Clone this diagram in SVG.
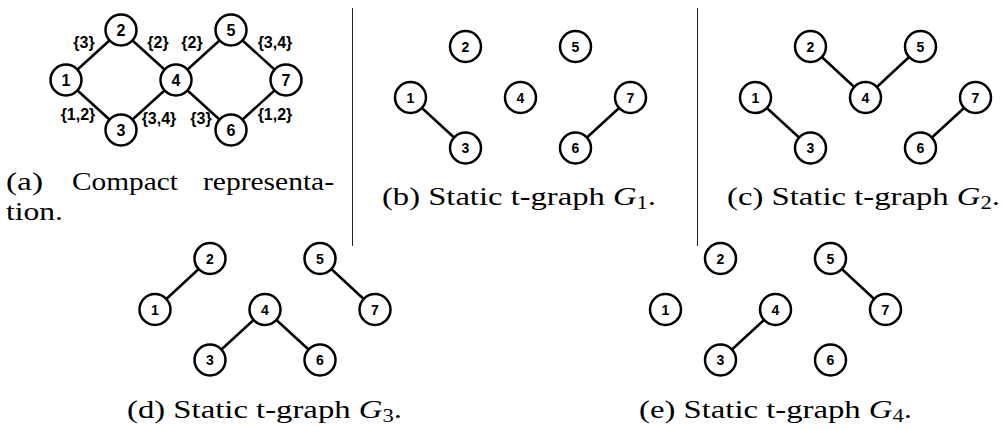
<svg xmlns="http://www.w3.org/2000/svg" width="1004" height="430" viewBox="0 0 1004 430">
<defs>
<style>
.n circle{fill:#fff;stroke:#000;stroke-width:2.5}
.e line{stroke:#000;stroke-width:2.5}
.div{stroke:#222;stroke-width:1}
</style>
</defs>
<rect width="1004" height="430" fill="#fff"/>
<line class="div" x1="352.5" y1="8" x2="352.5" y2="246" stroke="#222" stroke-width="1"/>
<line class="div" x1="697.5" y1="8" x2="697.5" y2="246" stroke="#222" stroke-width="1"/>

<!-- Panel a -->
<g id="a-edges" class="e" stroke="#000" stroke-width="2.5">
<line x1="66" y1="80" x2="121" y2="30"/>
<line x1="121" y1="30" x2="176" y2="80"/>
<line x1="66" y1="80" x2="121" y2="130"/>
<line x1="121" y1="130" x2="176" y2="80"/>
<line x1="176" y1="80" x2="231" y2="30"/>
<line x1="231" y1="30" x2="286" y2="80"/>
<line x1="176" y1="80" x2="231" y2="130"/>
<line x1="231" y1="130" x2="286" y2="80"/>
</g>
<g id="a-edge-labels" font-family="'Liberation Sans', Arial, sans-serif" font-weight="700" font-size="16" text-anchor="middle" fill="#000">
<text x="84" y="48">{3}</text>
<text x="158" y="48">{2}</text>
<text x="192" y="48">{2}</text>
<text x="275" y="48">{3,4}</text>
<text x="78" y="120">{1,2}</text>
<text x="159" y="124">{3,4}</text>
<text x="201" y="124">{3}</text>
<text x="275" y="120">{1,2}</text>
</g>
<g font-family="'Liberation Sans', Arial, sans-serif" font-weight="700" font-size="16" text-anchor="middle">
<g id="a-n1" class="n"><circle cx="66" cy="80" r="15.5" fill="#fff" stroke="#000" stroke-width="2.5"/><text x="66" y="85.7">1</text></g>
<g id="a-n2" class="n"><circle cx="121" cy="30" r="15.5" fill="#fff" stroke="#000" stroke-width="2.5"/><text x="121" y="35.7">2</text></g>
<g id="a-n3" class="n"><circle cx="121" cy="130" r="15.5" fill="#fff" stroke="#000" stroke-width="2.5"/><text x="121" y="135.7">3</text></g>
<g id="a-n4" class="n"><circle cx="176" cy="80" r="15.5" fill="#fff" stroke="#000" stroke-width="2.5"/><text x="176" y="85.7">4</text></g>
<g id="a-n5" class="n"><circle cx="231" cy="30" r="15.5" fill="#fff" stroke="#000" stroke-width="2.5"/><text x="231" y="35.7">5</text></g>
<g id="a-n6" class="n"><circle cx="231" cy="130" r="15.5" fill="#fff" stroke="#000" stroke-width="2.5"/><text x="231" y="135.7">6</text></g>
<g id="a-n7" class="n"><circle cx="286" cy="80" r="15.5" fill="#fff" stroke="#000" stroke-width="2.5"/><text x="286" y="85.7">7</text></g>
</g>
<g id="a-caption" font-family="'Liberation Serif', 'Times New Roman', serif" font-size="26" fill="#000">
<text x="6" y="190" textLength="37" lengthAdjust="spacingAndGlyphs">(a)</text>
<text x="72" y="190" textLength="106" lengthAdjust="spacingAndGlyphs">Compact</text>
<text x="203" y="190" textLength="131" lengthAdjust="spacingAndGlyphs">representa-</text>
<text x="6" y="220" textLength="57" lengthAdjust="spacingAndGlyphs">tion.</text>
</g>

<!-- Panel b -->
<g id="b-edges" class="e" stroke="#000" stroke-width="2.5">
<line x1="410.5" y1="97.5" x2="465.5" y2="148"/>
<line x1="575.5" y1="148" x2="630.5" y2="97.5"/>
</g>
<g font-family="'Liberation Sans', Arial, sans-serif" font-weight="700" font-size="14" text-anchor="middle">
<g id="b-n1" class="n"><circle cx="410.5" cy="97.5" r="15.5" fill="#fff" stroke="#000" stroke-width="2.5"/><text x="410.5" y="102.5">1</text></g>
<g id="b-n2" class="n"><circle cx="465.5" cy="46.5" r="15.5" fill="#fff" stroke="#000" stroke-width="2.5"/><text x="465.5" y="51.5">2</text></g>
<g id="b-n3" class="n"><circle cx="465.5" cy="148" r="15.5" fill="#fff" stroke="#000" stroke-width="2.5"/><text x="465.5" y="153">3</text></g>
<g id="b-n4" class="n"><circle cx="520.5" cy="97.5" r="15.5" fill="#fff" stroke="#000" stroke-width="2.5"/><text x="520.5" y="102.5">4</text></g>
<g id="b-n5" class="n"><circle cx="575.5" cy="46.5" r="15.5" fill="#fff" stroke="#000" stroke-width="2.5"/><text x="575.5" y="51.5">5</text></g>
<g id="b-n6" class="n"><circle cx="575.5" cy="148" r="15.5" fill="#fff" stroke="#000" stroke-width="2.5"/><text x="575.5" y="153">6</text></g>
<g id="b-n7" class="n"><circle cx="630.5" cy="97.5" r="15.5" fill="#fff" stroke="#000" stroke-width="2.5"/><text x="630.5" y="102.5">7</text></g>
</g>
<text id="b-caption" font-family="'Liberation Serif', 'Times New Roman', serif" font-size="26" x="382" y="205" textLength="274" lengthAdjust="spacingAndGlyphs">(b) Static t-graph <tspan font-style="italic">G</tspan><tspan font-size="18" dy="4">1</tspan><tspan dy="-4">.</tspan></text>

<!-- Panel c -->
<g id="c-edges" class="e" stroke="#000" stroke-width="2.5">
<line x1="755.5" y1="97.5" x2="810.5" y2="148"/>
<line x1="810.5" y1="46.5" x2="865.5" y2="97.5"/>
<line x1="865.5" y1="97.5" x2="920.5" y2="46.5"/>
<line x1="920.5" y1="148" x2="975.5" y2="97.5"/>
</g>
<g font-family="'Liberation Sans', Arial, sans-serif" font-weight="700" font-size="14" text-anchor="middle">
<g id="c-n1" class="n"><circle cx="755.5" cy="97.5" r="15.5" fill="#fff" stroke="#000" stroke-width="2.5"/><text x="755.5" y="102.5">1</text></g>
<g id="c-n2" class="n"><circle cx="810.5" cy="46.5" r="15.5" fill="#fff" stroke="#000" stroke-width="2.5"/><text x="810.5" y="51.5">2</text></g>
<g id="c-n3" class="n"><circle cx="810.5" cy="148" r="15.5" fill="#fff" stroke="#000" stroke-width="2.5"/><text x="810.5" y="153">3</text></g>
<g id="c-n4" class="n"><circle cx="865.5" cy="97.5" r="15.5" fill="#fff" stroke="#000" stroke-width="2.5"/><text x="865.5" y="102.5">4</text></g>
<g id="c-n5" class="n"><circle cx="920.5" cy="46.5" r="15.5" fill="#fff" stroke="#000" stroke-width="2.5"/><text x="920.5" y="51.5">5</text></g>
<g id="c-n6" class="n"><circle cx="920.5" cy="148" r="15.5" fill="#fff" stroke="#000" stroke-width="2.5"/><text x="920.5" y="153">6</text></g>
<g id="c-n7" class="n"><circle cx="975.5" cy="97.5" r="15.5" fill="#fff" stroke="#000" stroke-width="2.5"/><text x="975.5" y="102.5">7</text></g>
</g>
<text id="c-caption" font-family="'Liberation Serif', 'Times New Roman', serif" font-size="26" x="727" y="205" textLength="273" lengthAdjust="spacingAndGlyphs">(c) Static t-graph <tspan font-style="italic">G</tspan><tspan font-size="18" dy="4">2</tspan><tspan dy="-4">.</tspan></text>

<!-- Panel d -->
<g id="d-edges" class="e" stroke="#000" stroke-width="2.5">
<line x1="155" y1="309.5" x2="210" y2="258.5"/>
<line x1="210" y1="360" x2="265" y2="309.5"/>
<line x1="265" y1="309.5" x2="320" y2="360"/>
<line x1="320" y1="258.5" x2="375" y2="309.5"/>
</g>
<g font-family="'Liberation Sans', Arial, sans-serif" font-weight="700" font-size="14" text-anchor="middle">
<g id="d-n1" class="n"><circle cx="155" cy="309.5" r="15.5" fill="#fff" stroke="#000" stroke-width="2.5"/><text x="155" y="314.5">1</text></g>
<g id="d-n2" class="n"><circle cx="210" cy="258.5" r="15.5" fill="#fff" stroke="#000" stroke-width="2.5"/><text x="210" y="263.5">2</text></g>
<g id="d-n3" class="n"><circle cx="210" cy="360" r="15.5" fill="#fff" stroke="#000" stroke-width="2.5"/><text x="210" y="365">3</text></g>
<g id="d-n4" class="n"><circle cx="265" cy="309.5" r="15.5" fill="#fff" stroke="#000" stroke-width="2.5"/><text x="265" y="314.5">4</text></g>
<g id="d-n5" class="n"><circle cx="320" cy="258.5" r="15.5" fill="#fff" stroke="#000" stroke-width="2.5"/><text x="320" y="263.5">5</text></g>
<g id="d-n6" class="n"><circle cx="320" cy="360" r="15.5" fill="#fff" stroke="#000" stroke-width="2.5"/><text x="320" y="365">6</text></g>
<g id="d-n7" class="n"><circle cx="375" cy="309.5" r="15.5" fill="#fff" stroke="#000" stroke-width="2.5"/><text x="375" y="314.5">7</text></g>
</g>
<text id="d-caption" font-family="'Liberation Serif', 'Times New Roman', serif" font-size="26" x="127" y="418" textLength="275" lengthAdjust="spacingAndGlyphs">(d) Static t-graph <tspan font-style="italic">G</tspan><tspan font-size="18" dy="4">3</tspan><tspan dy="-4">.</tspan></text>

<!-- Panel e -->
<g id="e-edges" class="e" stroke="#000" stroke-width="2.5">
<line x1="720.5" y1="360" x2="775.5" y2="309.5"/>
<line x1="830.5" y1="258.5" x2="885.5" y2="309.5"/>
</g>
<g font-family="'Liberation Sans', Arial, sans-serif" font-weight="700" font-size="14" text-anchor="middle">
<g id="e-n1" class="n"><circle cx="665.5" cy="309.5" r="15.5" fill="#fff" stroke="#000" stroke-width="2.5"/><text x="665.5" y="314.5">1</text></g>
<g id="e-n2" class="n"><circle cx="720.5" cy="258.5" r="15.5" fill="#fff" stroke="#000" stroke-width="2.5"/><text x="720.5" y="263.5">2</text></g>
<g id="e-n3" class="n"><circle cx="720.5" cy="360" r="15.5" fill="#fff" stroke="#000" stroke-width="2.5"/><text x="720.5" y="365">3</text></g>
<g id="e-n4" class="n"><circle cx="775.5" cy="309.5" r="15.5" fill="#fff" stroke="#000" stroke-width="2.5"/><text x="775.5" y="314.5">4</text></g>
<g id="e-n5" class="n"><circle cx="830.5" cy="258.5" r="15.5" fill="#fff" stroke="#000" stroke-width="2.5"/><text x="830.5" y="263.5">5</text></g>
<g id="e-n6" class="n"><circle cx="830.5" cy="360" r="15.5" fill="#fff" stroke="#000" stroke-width="2.5"/><text x="830.5" y="365">6</text></g>
<g id="e-n7" class="n"><circle cx="885.5" cy="309.5" r="15.5" fill="#fff" stroke="#000" stroke-width="2.5"/><text x="885.5" y="314.5">7</text></g>
</g>
<text id="e-caption" font-family="'Liberation Serif', 'Times New Roman', serif" font-size="26" x="639" y="418" textLength="273" lengthAdjust="spacingAndGlyphs">(e) Static t-graph <tspan font-style="italic">G</tspan><tspan font-size="18" dy="4">4</tspan><tspan dy="-4">.</tspan></text>
</svg>
